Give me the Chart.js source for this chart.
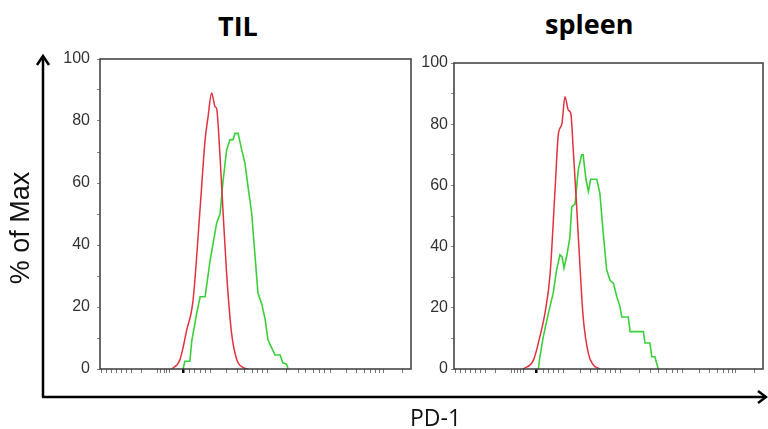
<!DOCTYPE html>
<html>
<head>
<meta charset="utf-8">
<script src="https://cdn.jsdelivr.net/npm/chart.js@4.4.1/dist/chart.umd.min.js"></script>
<style>
  body { margin: 0; background: #fff; width: 768px; height: 429px; position: relative; overflow: hidden; }
  .wrap { position: absolute; }
  .title { position: absolute; font-family: "Open Sans", sans-serif; font-weight: 700; font-size: 27px; color: #000; line-height: 1; white-space: nowrap; }
  .lab { position: absolute; font-family: "Liberation Sans", Arial, sans-serif; color: #111; white-space: nowrap; line-height: 1; }
</style>
</head>
<body>
<div class="title" style="left:218px; top:12px;">TIL</div>
<div class="title" style="left:545px; top:10px;">spleen</div>

<div class="wrap" style="left:40px; top:50px; width:380px; height:330px;"><canvas id="til"></canvas></div>
<div class="wrap" style="left:400px; top:50px; width:368px; height:330px;"><canvas id="spleen"></canvas></div>

<svg style="position:absolute; left:0; top:0;" width="768" height="429">
  <g stroke="#000" stroke-width="2.5" fill="none">
    <line x1="43" y1="56" x2="43" y2="397"/>
    <line x1="42" y1="397" x2="766" y2="397"/>
    <polyline points="37,65 43,56 49,65"/>
    <polyline points="758,391 766,397 758,403"/>
  </g>
</svg>

<div class="lab" style="left:20px; top:228px; font-size:27px; transform: translate(-50%,-50%) rotate(-90deg);">% of Max</div>
<div class="lab" style="left:410px; top:406px; font-size:23px; font-family:'Open Sans', sans-serif;">PD-1</div>

<script>
/* PD-1 channel position (0-100 across the plot) and % of Max */
const tilIsoX   = [23.1, 25.7, 27.9, 29.9, 32.2, 33.8, 34.7, 35.9, 37.0, 37.5, 38.6, 39.5, 40.7, 42.3, 44.0, 46.0, 47.6];
const tilIsoY   = [0, 3, 12.6, 22, 52, 74, 81, 89, 84.6, 84, 68.5, 52, 31, 11.6, 3, 0.5, 0];
const tilPd1X   = [26.7, 27.3, 28.9, 29.5, 31.1, 32.2, 33.8, 35.4, 37.5, 38.6, 39.5, 40.7, 41.8, 42.8, 43.4, 44.4, 45.6, 46.6, 47.6, 48.8, 49.8, 50.8, 52.0, 53.1, 54.0, 55.2, 56.3, 57.9, 58.8, 60.0, 60.5];
const tilPd1Y   = [0, 2.5, 2.5, 9, 18, 23.3, 23.3, 35, 47, 50, 60, 70.6, 74, 74, 76, 76, 70.6, 66.4, 58.8, 50, 37, 24.5, 21, 16, 9.4, 6.8, 4.5, 4.5, 2, 1.5, 0];
const splIsoX   = [22.4, 25.7, 27.8, 29.4, 31.1, 32.7, 33.8, 34.9, 35.9, 37.0, 37.8, 38.6, 39.7, 40.8, 41.8, 43.5, 45.1, 47.2];
const splIsoY   = [0, 2.9, 10.6, 18, 31, 58.5, 77, 80, 89, 84.6, 83.5, 71.6, 53, 33, 17, 5, 1.3, 0];
const splPd1X   = [27.3, 27.8, 28.9, 30.5, 32.1, 33.2, 34.3, 35.0, 35.6, 36.5, 37.5, 38.1, 39.2, 40.2, 41.3, 41.8, 42.7, 43.5, 44.2, 46.2, 47.2, 48.3, 49.4, 50.5, 51.6, 52.7, 53.7, 54.3, 56.4, 57.0, 61.3, 61.8, 63.4, 64.0, 65.0, 66.1];
const splPd1Y   = [0, 4, 10.6, 18, 24.8, 32.4, 37.3, 36.6, 33, 37, 43, 53, 54, 65, 70, 70, 62, 58, 62, 62, 57.5, 44.4, 32.4, 29, 28, 23.6, 20.4, 17, 17, 12.2, 12.2, 8.5, 8.5, 4, 4, 0];

/* logicle-style tick marks under the x axis */
const xTickPos  = [0.5, 2.2, 3.8, 5.4, 7.0, 8.6, 10.2, 13.4, 18.6, 19.6, 20.6, 21.5, 22.5, 26.7, 28.9, 30.5, 32.2, 33.8, 35.4, 40.8, 44.1, 46.6, 48.9, 50.8, 52.4, 54.0, 60.1, 63.7, 66.2, 68.8, 70.7, 72.3, 74.0, 79.4, 82.6, 85.2, 87.1, 88.7, 90.0, 91.0, 97.4];
const yLabelled = [0, 20, 40, 60, 80, 100];

function pts(xs, ys) {
    return xs.map(function(x, i) { return { x: x, y: ys[i] }; });
}

/* draw the full box round the plot area */
const boxPlugin = {
    id: 'box',
    afterDraw: function(chart) {
        const a = chart.chartArea, ctx = chart.ctx;
        ctx.save();
        ctx.strokeStyle = '#3a3a3a';
        ctx.lineWidth = 1.5;
        ctx.strokeRect(a.left, a.top, a.right - a.left, a.bottom - a.top);
        ctx.restore();
    }
};

function makeChart(id, isoX, isoY, pdX, pdY, yWidth, labelPad, pad) {
    const ctx = document.getElementById(id).getContext('2d');
    return new Chart(ctx, {
        type: 'line',
        data: {
            datasets: [{
                label: 'isotype',
                data: pts(isoX, isoY),
                borderColor: '#e0323f',
                borderWidth: 1.5,
                pointRadius: 0,
                cubicInterpolationMode: 'monotone'
            }, {
                label: 'PD-1',
                data: pts(pdX, pdY),
                borderColor: '#3ccf3c',
                borderWidth: 1.6,
                pointRadius: 0,
                tension: 0
            }]
        },
        options: {
            responsive: true,
            maintainAspectRatio: false,
            animation: false,
            layout: { padding: pad },
            plugins: { legend: { display: false }, tooltip: { enabled: false } },
            scales: {
                x: {
                    type: 'linear', min: 0, max: 100,
                    afterBuildTicks: function(scale) {
                        scale.ticks = xTickPos.map(function(v) { return { value: v }; });
                    },
                    afterFit: function(scale) {
                        scale.height = 11;
                        scale.paddingLeft = 0; scale.paddingRight = 0;
                    },
                    ticks: { display: false },
                    border: { display: false },
                    grid: {
                        drawOnChartArea: false,
                        tickLength: 4,
                        color: function(c) { return c.tick && c.tick.value === 26.7 ? '#000' : '#777'; },
                        lineWidth: function(c) { return c.tick && c.tick.value === 26.7 ? 2.5 : 1; }
                    }
                },
                y: {
                    min: 0, max: 100,
                    afterFit: function(scale) {
                        scale.width = yWidth;
                        scale.paddingTop = 0; scale.paddingBottom = 0;
                    },
                    ticks: {
                        stepSize: 5,
                        padding: labelPad,
                        color: '#333',
                        font: { family: 'Liberation Sans', size: 16 },
                        callback: function(v) { return yLabelled.indexOf(v) >= 0 ? v : ''; }
                    },
                    border: { display: false },
                    grid: { drawOnChartArea: false, tickLength: 3, color: '#888' }
                }
            }
        },
        plugins: [boxPlugin]
    });
}

makeChart('til', tilIsoX, tilIsoY, tilPd1X, tilPd1Y, 60, 7, { top: 9, right: 9, bottom: 0 });
makeChart('spleen', splIsoX, splIsoY, splPd1X, splPd1Y, 54, 3, { top: 13, right: 5, bottom: 0 });
</script>
</body>
</html>
